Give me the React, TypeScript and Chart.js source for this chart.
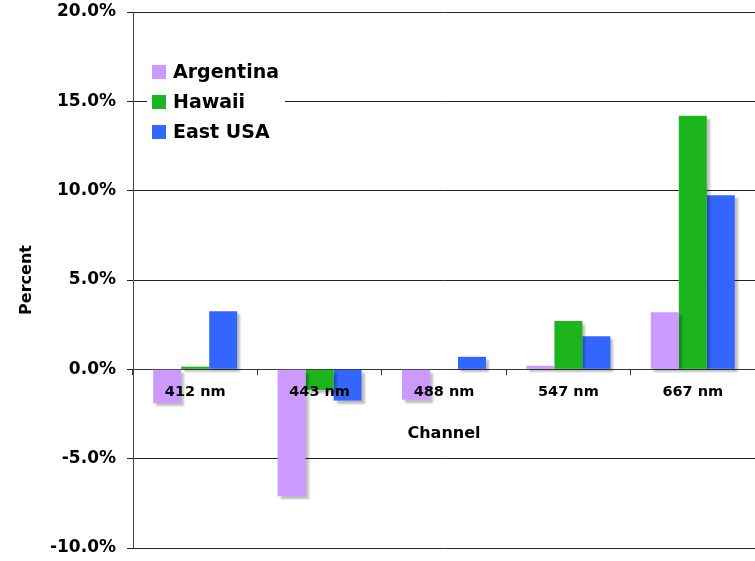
import React, { useEffect, useRef } from 'react';
import { Chart, registerables } from 'chart.js';

Chart.register(...registerables);

const categories = ['412 nm', '443 nm', '488 nm', '547 nm', '667 nm'];
const seriesNames = ['Argentina', 'Hawaii', 'East USA'];
const argentina = [-1.9, -7.1, -1.7, 0.2, 3.2];
const hawaii = [0.15, -1.15, 0, 2.7, 14.2];
const eastUSA = [3.25, -1.75, 0.7, 1.85, 9.75];
const seriesColors = ['#CC99FF', '#1DB51D', '#3366FF'];
const yMin = -10;
const yMax = 20;
const yStep = 5;
const xTitle = 'Channel';
const yTitle = 'Percent';

const FONT = '"DejaVu Sans", Verdana, sans-serif';

const shadowPlugin = {
  id: 'barShadow',
  beforeDatasetsDraw(chart: any) {
    const c = chart.ctx;
    c.save();
    c.shadowColor = 'rgba(0,0,0,0.25)';
    c.shadowOffsetX = 3;
    c.shadowOffsetY = 3;
    c.shadowBlur = 2;
  },
  afterDatasetsDraw(chart: any) {
    chart.ctx.restore();
  },
};

const overlayPlugin = {
  id: 'overlay',
  afterDraw(chart: any) {
    const c = chart.ctx;
    const area = chart.chartArea;
    c.save();
    // legend
    const lx = area.left + 14;
    const ly = area.top + 48;
    c.fillStyle = '#ffffff';
    c.fillRect(lx, ly, 138, 90);
    c.font = `bold 19px ${FONT}`;
    c.textBaseline = 'middle';
    c.textAlign = 'left';
    chart.data.datasets.forEach((ds: any, i: number) => {
      const cy = ly + 12 + i * 30;
      c.fillStyle = ds.backgroundColor;
      c.fillRect(lx + 5, cy - 7, 14, 14);
      c.fillStyle = '#000';
      c.fillText(ds.label, lx + 26, cy + 1);
    });
    // x axis title
    c.font = `bold 16px ${FONT}`;
    c.textAlign = 'center';
    c.fillStyle = '#000';
    const zeroY = chart.scales.y.getPixelForValue(0);
    c.fillText(xTitle, (area.left + area.right) / 2, zeroY + 65);
    c.restore();
  },
};

export default function App() {
  const ref = useRef<HTMLCanvasElement | null>(null);
  useEffect(() => {
    if (!ref.current) return;
    const chart = new Chart(ref.current, {
      type: 'bar',
      data: {
        labels: categories,
        datasets: [argentina, hawaii, eastUSA].map((d, i) => ({
          label: seriesNames[i],
          data: d,
          backgroundColor: seriesColors[i],
          borderWidth: 0,
          categoryPercentage: 0.675,
          barPercentage: 1,
        })),
      },
      options: {
        animation: false,
        responsive: true,
        maintainAspectRatio: false,
        layout: { autoPadding: false, padding: { top: 12, bottom: 13, left: 0, right: 0 } },
        plugins: {
          legend: { display: false },
          tooltip: { enabled: false },
        },
        scales: {
          x: {
            type: 'category',
            position: { y: 0 } as any,
            afterFit(scale: any) {
              scale.height = 0;
              scale.paddingLeft = 0;
              scale.paddingRight = 0;
            },
            grid: {
              drawOnChartArea: false,
              offset: true,
              tickLength: 5,
              color: '#333',
            },
            border: { color: '#333', width: 1 },
            ticks: {
              z: 1,
              color: '#000',
              font: { family: FONT, size: 14.5, weight: 'bold' },
              padding: 9,
              maxRotation: 0,
            },
          },
          y: {
            min: yMin,
            max: yMax,
            afterFit(scale: any) {
              scale.width = 133;
              scale.paddingTop = 0;
              scale.paddingBottom = 0;
            },
            grid: { color: '#222', tickLength: 6 },
            border: { color: '#444', width: 1 },
            ticks: {
              stepSize: yStep,
              color: '#000',
              padding: 11,
              font: { family: FONT, size: 17, weight: 'bold' },
              callback: (v: any) => Number(v).toFixed(1) + '%',
            },
            title: {
              display: true,
              text: yTitle,
              color: '#000',
              font: { family: FONT, size: 16, weight: 'bold' },
              padding: { top: 17, bottom: 0 },
            },
          },
        },
      },
      plugins: [shadowPlugin, overlayPlugin],
    });
    return () => chart.destroy();
  }, []);
  return (
    <div style={{ position: 'fixed', left: 0, top: 0, width: 755, height: 561, background: '#fff' }}>
      <canvas ref={ref} />
    </div>
  );
}
